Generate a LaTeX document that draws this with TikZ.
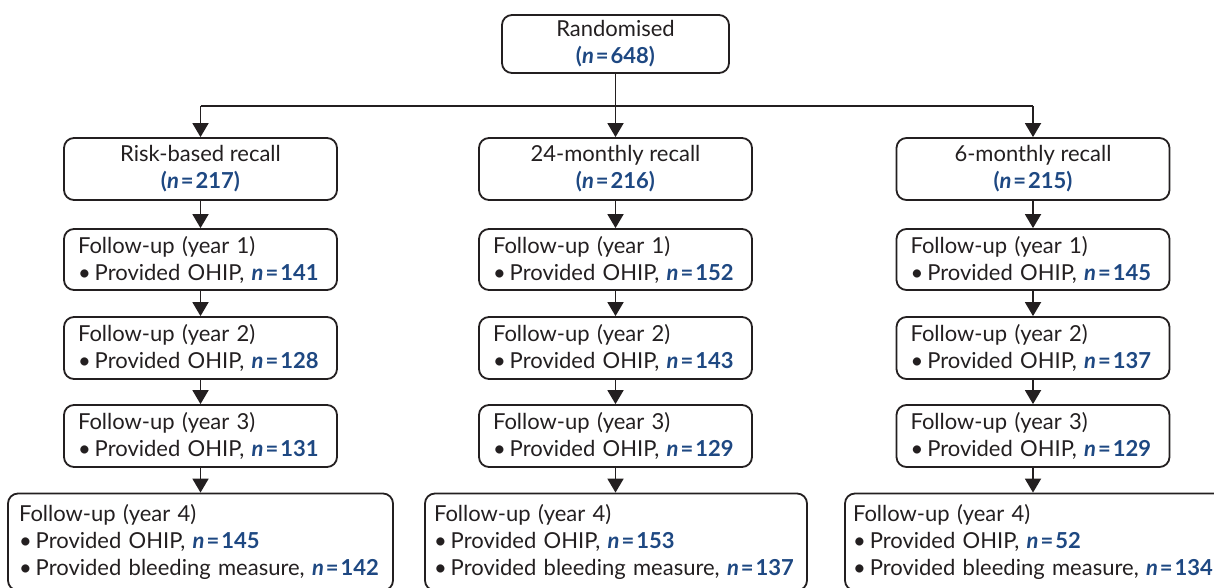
\documentclass[tikz,border=0pt]{standalone}
\usepackage{fontspec}
\setmainfont{Lato}
\usetikzlibrary{arrows.meta}
\definecolor{ink}{RGB}{35,31,32}
\definecolor{nblue}{RGB}{30,72,130}
\newcommand{\nval}[1]{\textcolor{nblue}{\textbf{\textit{n}}\kern2pt\textbf{=}\kern2pt\textbf{#1}}}
\newcommand{\npar}[1]{\textcolor{nblue}{\textbf{(}\nval{#1}\textbf{)}}}
\newcommand{\bul}{\textbullet\hspace{4pt}}
\tikzset{
  box/.style={draw=ink, line width=1.8pt, rounded corners=10pt, inner ysep=0pt, text=ink,
    font=\fontsize{22}{27}\selectfont},
  cbox/.style={box, align=center, inner xsep=0pt},
  lbox/.style={box, align=left, inner xsep=14pt},
  arr/.style={draw=ink, line width=1.8pt, -{Triangle[width=16pt,length=14pt]}},
  ln/.style={draw=ink, line width=1.8pt},
}
\begin{document}
\begin{tikzpicture}[x=1pt,y=-1pt]
\useasboundingbox (0,0) rectangle (1214,588);
\node[cbox, minimum width=227pt, minimum height=58pt] (rand) at (615.5,44) {Randomised\\\npar{648}};

\node[cbox, minimum width=273pt, minimum height=62pt] (r1) at (200.5,169) {Risk-based recall\\\npar{217}};
\node[cbox, minimum width=273pt, minimum height=62pt] (r2) at (615.5,169) {24-monthly recall\\\npar{216}};
\node[cbox, minimum width=273pt, minimum height=62pt] (r3) at (1033,169) {6-monthly recall\\\npar{215}};

\foreach \c/\x in {a/200.5,b/615.5,c/1033}{
  \coordinate (h\c) at (\x,106);
}
\coordinate (hm) at (615.5,106);

% follow-up boxes years 1-3
\node[lbox, text width=245pt, minimum height=61pt] (a1) at (200.5,259.5) {Follow-up (year 1)\\\bul Provided OHIP, \nval{141}};
\node[lbox, text width=245pt, minimum height=62pt] (a2) at (200.5,348) {Follow-up (year 2)\\\bul Provided OHIP, \nval{128}};
\node[lbox, text width=245pt, minimum height=62pt] (a3) at (200.5,436) {Follow-up (year 3)\\\bul Provided OHIP, \nval{131}};

\node[lbox, text width=245pt, minimum height=61pt] (b1) at (615.5,259.5) {Follow-up (year 1)\\\bul Provided OHIP, \nval{152}};
\node[lbox, text width=245pt, minimum height=62pt] (b2) at (615.5,348) {Follow-up (year 2)\\\bul Provided OHIP, \nval{143}};
\node[lbox, text width=245pt, minimum height=62pt] (b3) at (615.5,436) {Follow-up (year 3)\\\bul Provided OHIP, \nval{129}};

\node[lbox, text width=245pt, minimum height=61pt] (c1) at (1033,259.5) {Follow-up (year 1)\\\bul Provided OHIP, \nval{145}};
\node[lbox, text width=245pt, minimum height=62pt] (c2) at (1033,348) {Follow-up (year 2)\\\bul Provided OHIP, \nval{137}};
\node[lbox, text width=245pt, minimum height=62pt] (c3) at (1033,436) {Follow-up (year 3)\\\bul Provided OHIP, \nval{129}};

% year 4 boxes
\node[box, align=left, inner xsep=11pt, text width=363pt, minimum height=97pt] (a4) at (200.5,542) {Follow-up (year 4)\\\bul Provided OHIP, \nval{145}\\\mbox{\bul Provided bleeding measure, \nval{142}}};
\node[box, align=left, inner xsep=9pt, text width=364pt, minimum height=97pt] (b4) at (616,542) {Follow-up (year 4)\\\bul Provided OHIP, \nval{153}\\\mbox{\bul Provided bleeding measure, \nval{137}}};
\node[box, align=left, inner xsep=8pt, text width=369pt, minimum height=97pt] (c4) at (1037.5,542) {Follow-up (year 4)\\\bul Provided OHIP, \nval{52}\\\mbox{\bul Provided bleeding measure, \nval{134}}};

% connectors
\draw[ln] (rand.south) -- (hm);
\draw[ln] (ha) -- (hc);
\draw[arr] (ha) -- (r1.north);
\draw[arr] (hb) -- (r2.north);
\draw[arr] (hc) -- (r3.north);

\draw[arr] (r1) -- (a1);
\draw[arr] (a1) -- (a2);
\draw[arr] (a2) -- (a3);
\draw[arr] (a3.south) -- (a3.south |- a4.north);

\draw[arr] (r2) -- (b1);
\draw[arr] (b1) -- (b2);
\draw[arr] (b2) -- (b3);
\draw[arr] (b3.south) -- (b3.south |- b4.north);

\draw[arr] (r3) -- (c1);
\draw[arr] (c1) -- (c2);
\draw[arr] (c2) -- (c3);
\draw[arr] (c3.south) -- (c3.south |- c4.north);
\end{tikzpicture}
\end{document}
